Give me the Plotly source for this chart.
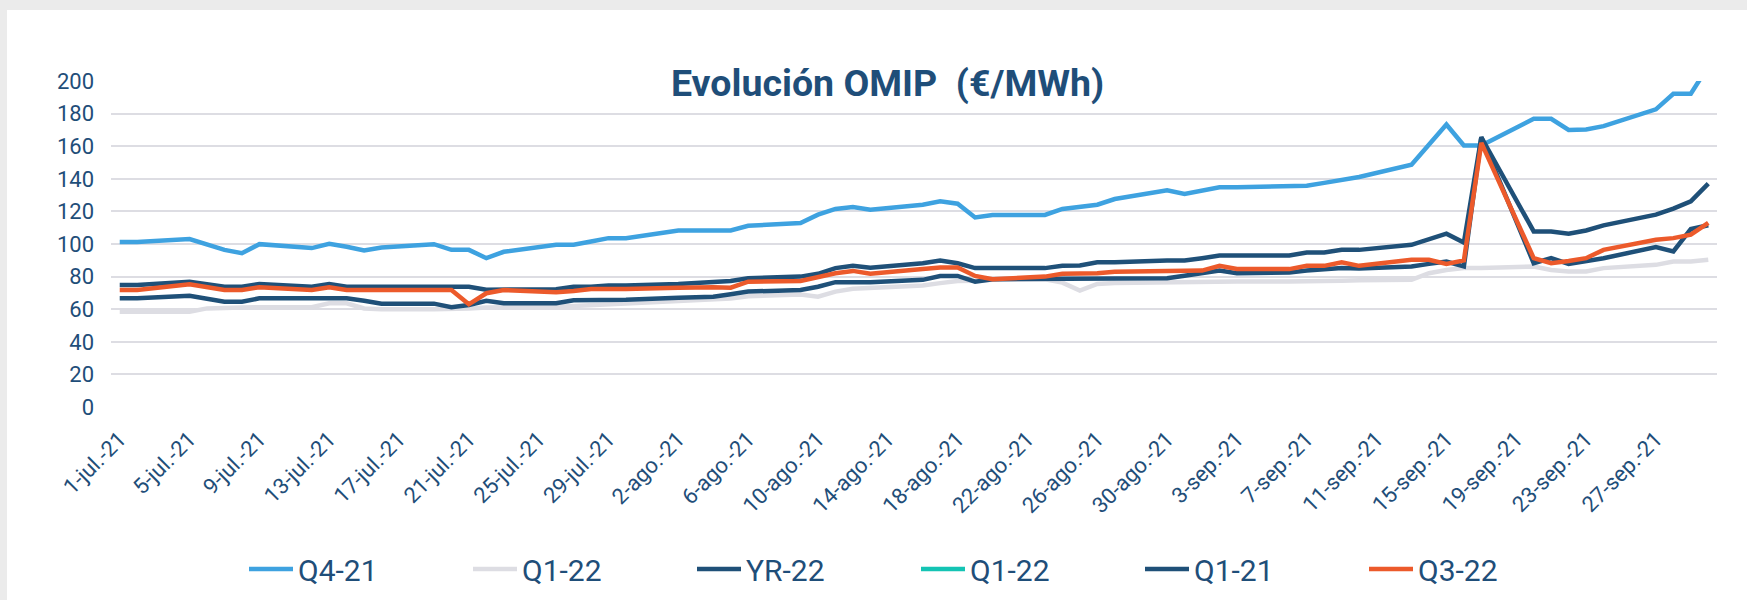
import plotly.graph_objects as go

# ---- data ----
dates = [
    "2021-07-01", "2021-07-02", "2021-07-05", "2021-07-06", "2021-07-07", "2021-07-08", "2021-07-09",
    "2021-07-12", "2021-07-13", "2021-07-14", "2021-07-15", "2021-07-16",
    "2021-07-19", "2021-07-20", "2021-07-21", "2021-07-22", "2021-07-23",
    "2021-07-26", "2021-07-27", "2021-07-28", "2021-07-29", "2021-07-30",
    "2021-08-02", "2021-08-03", "2021-08-04", "2021-08-05", "2021-08-06",
    "2021-08-09", "2021-08-10", "2021-08-11", "2021-08-12", "2021-08-13",
    "2021-08-16", "2021-08-17", "2021-08-18", "2021-08-19", "2021-08-20",
    "2021-08-23", "2021-08-24", "2021-08-25", "2021-08-26", "2021-08-27",
    "2021-08-30", "2021-08-31", "2021-09-01", "2021-09-02", "2021-09-03",
    "2021-09-06", "2021-09-07", "2021-09-08", "2021-09-09", "2021-09-10",
    "2021-09-13", "2021-09-14", "2021-09-15", "2021-09-16", "2021-09-17",
    "2021-09-20", "2021-09-21", "2021-09-22", "2021-09-23", "2021-09-24",
    "2021-09-27", "2021-09-28", "2021-09-29", "2021-09-30",
]

q4_21 = [
    101.2, 101.2, 103.0, 99.7, 96.4, 94.4, 99.9,
    97.5, 100.1, 98.3, 96.0, 97.9,
    99.9, 96.4, 96.4, 91.3, 95.2,
    99.5, 99.5, 101.5, 103.6, 103.6,
    108.3, 108.3, 108.3, 108.3, 111.2,
    112.9, 118.0, 121.5, 122.7, 121.0,
    124.1, 126.2, 124.7, 116.3, 117.8,
    117.8, 121.5, 123.0, 124.1, 127.6,
    132.9, 130.7, 132.7, 134.8, 134.8,
    135.8, 135.8, 137.5, 139.1, 141.1,
    148.7, 161.0, 173.3, 160.4, 160.4,
    176.8, 176.8, 170.0, 170.3, 172.3,
    182.6, 192.2, 192.2, 209.0,
]

q1_22 = [
    58.5, 58.5, 58.5, 60.5, 61.0, 61.0, 61.2,
    61.2, 63.6, 63.6, 60.5, 60.0,
    60.0, 60.0, 60.5, 61.0, 61.0,
    61.5, 62.0, 62.5, 63.0, 63.5,
    64.5, 65.0, 65.5, 66.5, 68.0,
    69.0, 67.7, 70.8, 72.5, 73.0,
    74.5, 76.0, 77.3, 77.5, 78.0,
    78.4, 76.3, 71.4, 75.5, 76.0,
    76.5, 76.5, 77.0, 77.0, 77.0,
    77.0, 77.0, 77.5, 77.5, 77.8,
    78.0, 82.1, 84.1, 85.2, 85.2,
    86.2, 84.1, 83.1, 83.1, 85.2,
    87.2, 89.2, 89.2, 90.3,
]

yr_22 = [
    74.9, 74.9, 76.9, 75.3, 73.8, 73.8, 75.5,
    73.8, 75.5, 73.8, 73.8, 73.8,
    73.8, 73.8, 73.8, 72.0, 72.0,
    72.2, 73.8, 73.8, 74.5, 74.5,
    75.5, 75.9, 76.9, 77.3, 79.0,
    80.0, 81.7, 85.2, 86.6, 85.4,
    88.2, 89.8, 88.2, 85.2, 85.2,
    85.2, 86.6, 86.8, 88.8, 88.8,
    89.9, 89.9, 91.3, 92.9, 92.9,
    92.9, 94.8, 94.8, 96.4, 96.4,
    99.5, 103.2, 106.3, 100.9, 165.5,
    107.7, 107.7, 106.3, 108.3, 111.4,
    118.0, 121.7, 126.2, 137.0,
]

q1_22_b = [None] * len(dates)

q1_21 = [
    66.7, 66.7, 68.3, 66.5, 64.6, 64.6, 66.7,
    66.7, 66.7, 66.7, 65.2, 63.4,
    63.4, 61.2, 62.6, 65.2, 63.6,
    63.6, 65.5, 65.5, 65.7, 65.8,
    67.0, 67.3, 67.7, 69.2, 70.8,
    71.8, 73.8, 76.6, 76.5, 76.5,
    78.0, 80.4, 80.4, 76.9, 78.4,
    78.4, 78.4, 78.8, 79.0, 79.0,
    79.0, 80.5, 82.1, 83.7, 82.1,
    82.5, 83.7, 84.3, 85.2, 85.0,
    86.2, 87.8, 89.2, 86.2, 165.5,
    88.2, 91.3, 87.8, 89.2, 91.3,
    98.1, 95.4, 109.2, 111.5,
]

q3_22 = [
    71.8, 71.8, 75.3, 73.5, 71.8, 71.8, 73.5,
    71.8, 73.5, 71.8, 71.8, 71.8,
    71.8, 71.8, 63.0, 69.8, 71.8,
    70.4, 71.2, 72.4, 72.4, 72.4,
    73.2, 73.5, 73.5, 73.2, 76.9,
    77.3, 79.5, 82.1, 83.5, 81.7,
    84.6, 85.6, 85.6, 80.4, 78.4,
    80.0, 81.7, 81.9, 82.1, 83.0,
    83.7, 83.7, 83.7, 86.6, 84.7,
    84.6, 86.6, 86.6, 88.8, 86.6,
    90.3, 90.3, 87.8, 89.9, 162.0,
    91.3, 88.2, 89.6, 91.3, 96.4,
    102.6, 103.6, 105.7, 113.0,
]

tick_dates = [
    "2021-07-01", "2021-07-05", "2021-07-09", "2021-07-13", "2021-07-17", "2021-07-21",
    "2021-07-25", "2021-07-29", "2021-08-02", "2021-08-06", "2021-08-10", "2021-08-14",
    "2021-08-18", "2021-08-22", "2021-08-26", "2021-08-30", "2021-09-03", "2021-09-07",
    "2021-09-11", "2021-09-15", "2021-09-19", "2021-09-23", "2021-09-27",
]
tick_labels = [
    "1-jul.-21", "5-jul.-21", "9-jul.-21", "13-jul.-21", "17-jul.-21", "21-jul.-21",
    "25-jul.-21", "29-jul.-21", "2-ago.-21", "6-ago.-21", "10-ago.-21", "14-ago.-21",
    "18-ago.-21", "22-ago.-21", "26-ago.-21", "30-ago.-21", "3-sep.-21", "7-sep.-21",
    "11-sep.-21", "15-sep.-21", "19-sep.-21", "23-sep.-21", "27-sep.-21",
]
y_ticks = [0, 20, 40, 60, 80, 100, 120, 140, 160, 180, 200]

series = [
    ("Q4-21", q4_21, "#3EA2E0"),
    ("Q1-22", q1_22, "#DDDDE3"),
    ("YR-22", yr_22, "#1F5078"),
    ("Q1-22", q1_22_b, "#14C4B4"),
    ("Q1-21", q1_21, "#1F5078"),
    ("Q3-22", q3_22, "#EC5A2B"),
]

TEXT = "#1F4E79"
FONT = "Roboto"

fig = go.Figure()
for name, vals, color in series:
    fig.add_trace(go.Scatter(
        x=dates, y=vals, name=name, mode="lines",
        line=dict(color=color, width=4.5),
        connectgaps=False,
    ))

# plot area geometry in pixels
W, H = 1747, 600
L, R, T, B = 111, 30, 81, 193
pw, ph = W - L - R, H - T - B

def px_x(p):
    return (p - L) / pw

def px_y(p):
    return (H - B - p) / ph

# grey page background with a white card
fig.add_shape(type="rect", xref="paper", yref="paper",
              x0=px_x(7), x1=px_x(W + 5), y0=px_y(H + 5), y1=px_y(10),
              fillcolor="white", line=dict(width=0), layer="below")

fig.add_annotation(
    text="<b>Evolución OMIP&nbsp;&nbsp;(€/MWh)</b>",
    xref="paper", yref="paper", x=px_x(887), y=px_y(83),
    xanchor="center", yanchor="middle", showarrow=False,
    font=dict(family=FONT, size=37.5, color=TEXT),
)

fig.update_layout(
    width=W, height=H,
    margin=dict(l=L, r=R, t=T, b=B, autoexpand=False),
    paper_bgcolor="#EBEBEB",
    plot_bgcolor="white",
    font=dict(family=FONT, color=TEXT),
    showlegend=True,
    legend=dict(
        orientation="h", x=px_x(244), xanchor="left", y=px_y(543), yanchor="top",
        font=dict(family=FONT, size=30, color=TEXT),
        entrywidth=165, entrywidthmode="pixels", itemwidth=44,
        bgcolor="rgba(0,0,0,0)", traceorder="normal",
    ),
    xaxis=dict(
        type="date",
        range=["2021-06-30 12:00", "2021-09-30 12:00"],
        tickmode="array", tickvals=tick_dates, ticktext=tick_labels,
        tickangle=-45, tickfont=dict(family=FONT, size=22, color=TEXT),
        showgrid=False, zeroline=False, showline=False, ticks="",
        ticklabelstandoff=14,
    ),
    yaxis=dict(
        range=[0, 200], tickmode="array", tickvals=y_ticks,
        tickfont=dict(family=FONT, size=22, color=TEXT),
        showgrid=True, gridcolor="#DDDDE3", gridwidth=2,
        zeroline=True, zerolinecolor="rgba(255,255,255,0)", zerolinewidth=2,
        showline=False, ticks="", ticklabelstandoff=16,
    ),
)

fig.write_html("out.html", config={"displayModeBar": False},
               post_script="document.body.style.margin='0';")
